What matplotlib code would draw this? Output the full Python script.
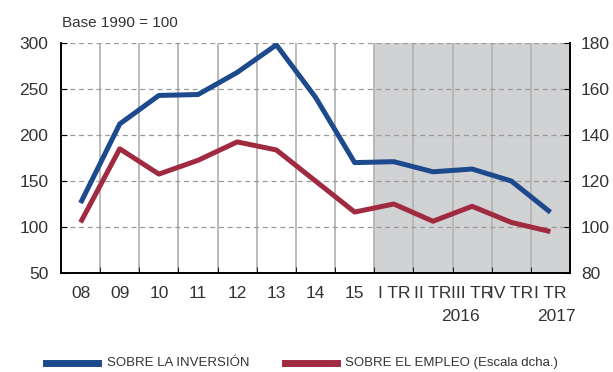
import matplotlib.pyplot as plt
from matplotlib.lines import Line2D

plt.rcParams['font.family'] = ['Liberation Sans', 'DejaVu Sans']

categories = ['08', '09', '10', '11', '12', '13', '14', '15',
              'I TR', 'II TR', 'III TR', 'IV TR', 'I TR']
inversion = [126, 212, 243, 244, 268, 298, 241, 170, 171, 160, 163, 150, 116]
empleo = [102, 134, 123, 129, 137, 133.5, 120, 106.5, 110, 102.5, 109, 102, 98]

blue = '#1c4a8c'
red = '#a02a40'
txt = '#333333'

W, H = 613, 372
fig = plt.figure(figsize=(W / 100, H / 100), dpi=100)
ax = fig.add_axes([61 / W, 1 - 273 / H, 509 / W, 230 / H])
ax2 = ax.twinx()

x = list(range(len(categories)))

# quarterly zone shaded grey
ax.axvspan(7.5, 12.5, color='#d1d2d4', zorder=0, lw=0)
for b in range(len(categories) - 1):
    ax.axvline(b + 0.5, color='#b5b5b5', lw=1.3, zorder=1)

ax.set_ylim(50, 300)
ax.set_yticks([50, 100, 150, 200, 250, 300])
for v in [100, 150, 200, 250, 300]:
    ax.axhline(v, color='#9a9a9a', lw=0.9, ls=(0, (4, 3)), zorder=1)
ax.set_xlim(-0.5, 12.5)
ax.set_xticks(x)
ax.set_xticklabels(categories)
ax.set_xticks([b + 0.5 for b in range(len(categories) - 1)], minor=True)
ax.tick_params(axis='x', which='major', length=0, pad=9, labelsize=12.5, colors=txt)
ax.tick_params(axis='x', which='minor', direction='in', length=4, color='black')
ax.tick_params(axis='y', direction='in', length=4, labelsize=12.5, labelcolor=txt, pad=9)

ax2.set_ylim(80, 180)
ax2.set_yticks([80, 100, 120, 140, 160, 180])
ax2.tick_params(axis='y', direction='in', length=4, labelsize=12.5, labelcolor=txt, pad=8)

for a in (ax, ax2):
    a.spines['top'].set_visible(False)
    for s in ('left', 'right', 'bottom'):
        a.spines[s].set_linewidth(1.2)

ax.plot(x, inversion, color=blue, lw=3.6, solid_capstyle='butt', zorder=3)
ax2.plot(x, empleo, color=red, lw=3.6, solid_capstyle='butt', zorder=3)

# year labels under the quarters
ax.text(9.7, -0.155, '2016', transform=ax.get_xaxis_transform(), ha='center', va='top',
        fontsize=12.5, color=txt)
ax.text(12.15, -0.155, '2017', transform=ax.get_xaxis_transform(), ha='center', va='top',
        fontsize=12.5, color=txt)

fig.text(62 / W, 1 - 23 / H, 'Base 1990 = 100', fontsize=11, color=txt, va='center')

# legend drawn by hand along the bottom
ly = 1 - 363 / H
fig.add_artist(Line2D([46 / W, 98 / W], [ly, ly], color=blue, lw=5))
fig.text(107 / W, ly, 'SOBRE LA INVERSIÓN', fontsize=9.5, color=txt, va='center')
fig.add_artist(Line2D([285 / W, 337 / W], [ly, ly], color=red, lw=5))
fig.text(345 / W, ly, 'SOBRE EL EMPLEO (Escala dcha.)', fontsize=9.5, color=txt, va='center')

fig.savefig('out.png', dpi=100)
